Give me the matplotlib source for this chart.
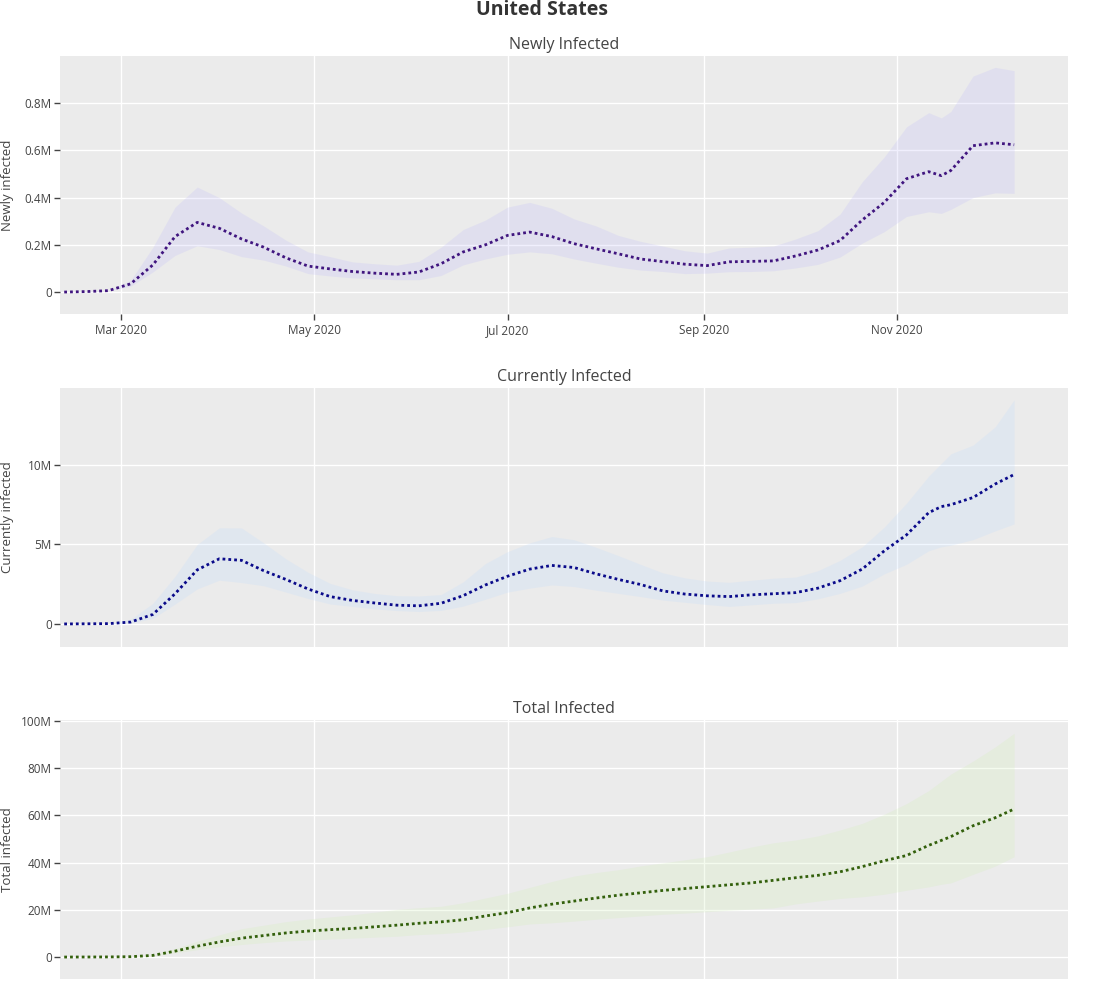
import matplotlib
matplotlib.use("Agg")
import matplotlib.pyplot as plt
import matplotlib.ticker as mticker
import pandas as pd

plt.rcParams['font.family'] = ['Open Sans', 'DejaVu Sans']

dates = pd.to_datetime([
    "2020-02-12", "2020-02-19", "2020-02-26", "2020-03-04", "2020-03-11", "2020-03-18",
    "2020-03-25", "2020-04-01", "2020-04-08", "2020-04-15", "2020-04-22", "2020-04-29",
    "2020-05-06", "2020-05-13", "2020-05-20", "2020-05-27", "2020-06-03", "2020-06-10",
    "2020-06-17", "2020-06-24", "2020-07-01", "2020-07-08", "2020-07-15", "2020-07-22",
    "2020-07-29", "2020-08-05", "2020-08-12", "2020-08-19", "2020-08-26", "2020-09-02",
    "2020-09-09", "2020-09-16", "2020-09-23", "2020-09-30", "2020-10-07", "2020-10-14",
    "2020-10-21", "2020-10-28", "2020-11-04", "2020-11-11", "2020-11-15", "2020-11-18",
    "2020-11-25", "2020-12-02", "2020-12-08"])

# Newly infected (millions)
new_mean = [0, 0.002, 0.006, 0.035, 0.115, 0.235, 0.295, 0.27, 0.225, 0.19, 0.145, 0.11,
            0.098, 0.087, 0.08, 0.075, 0.085, 0.12, 0.17, 0.2, 0.24, 0.254, 0.235, 0.205,
            0.183, 0.162, 0.14, 0.129, 0.118, 0.112, 0.128, 0.13, 0.132, 0.153, 0.178, 0.218,
            0.305, 0.38, 0.48, 0.51, 0.493, 0.515, 0.62, 0.632, 0.624]
new_upper = [0, 0.003, 0.007, 0.05, 0.19, 0.36, 0.445, 0.40, 0.335, 0.28, 0.22, 0.17,
             0.15, 0.128, 0.12, 0.114, 0.13, 0.19, 0.265, 0.305, 0.36, 0.38, 0.355, 0.31,
             0.28, 0.24, 0.215, 0.195, 0.175, 0.165, 0.187, 0.19, 0.195, 0.225, 0.26, 0.33,
             0.467, 0.573, 0.70, 0.76, 0.738, 0.765, 0.915, 0.952, 0.938]
new_lower = [0, 0.001, 0.005, 0.025, 0.085, 0.155, 0.196, 0.18, 0.15, 0.135, 0.11, 0.078,
             0.068, 0.06, 0.056, 0.052, 0.052, 0.07, 0.115, 0.14, 0.16, 0.17, 0.162, 0.14,
             0.122, 0.105, 0.093, 0.087, 0.078, 0.08, 0.086, 0.087, 0.09, 0.102, 0.117, 0.148,
             0.207, 0.256, 0.32, 0.34, 0.333, 0.35, 0.40, 0.42, 0.418]

# Currently infected (millions)
cur_mean = [0, 0.01, 0.02, 0.12, 0.6, 1.9, 3.4, 4.1, 4.0, 3.35, 2.8, 2.2,
            1.72, 1.48, 1.32, 1.18, 1.14, 1.3, 1.78, 2.45, 3.0, 3.45, 3.68, 3.55,
            3.15, 2.8, 2.48, 2.08, 1.88, 1.77, 1.72, 1.83, 1.9, 1.97, 2.25, 2.72,
            3.45, 4.6, 5.6, 7.0, 7.38, 7.5, 7.95, 8.8, 9.4]
cur_upper = [0, 0.01, 0.02, 0.3, 1.3, 3.0, 5.0, 6.05, 6.04, 5.1, 4.1, 3.25,
             2.55, 2.15, 1.92, 1.78, 1.76, 1.85, 2.65, 3.8, 4.55, 5.1, 5.5, 5.3,
             4.82, 4.3, 3.75, 3.22, 2.9, 2.7, 2.62, 2.75, 2.88, 2.95, 3.35, 4.0,
             4.85, 6.1, 7.6, 9.3, 10.1, 10.7, 11.25, 12.4, 14.1]
cur_lower = [0, 0.01, 0.02, 0.05, 0.35, 1.25, 2.2, 2.75, 2.6, 2.4, 2.0, 1.6,
             1.25, 1.1, 0.95, 0.84, 0.78, 0.85, 1.12, 1.55, 2.0, 2.25, 2.45, 2.35,
             2.12, 1.92, 1.72, 1.5, 1.36, 1.22, 1.1, 1.2, 1.3, 1.34, 1.58, 1.92,
             2.38, 3.15, 3.75, 4.6, 4.85, 4.95, 5.3, 5.85, 6.29]

# Total infected (millions)
tot_mean = [0, 0.02, 0.05, 0.15, 0.7, 2.5, 4.6, 6.4, 8.0, 9.1, 10.2, 11.0,
            11.6, 12.1, 12.8, 13.5, 14.3, 14.9, 15.8, 17.4, 18.8, 20.8, 22.4, 23.7,
            25.0, 26.2, 27.2, 28.2, 29.0, 29.8, 30.6, 31.4, 32.5, 33.6, 34.6, 36.1,
            38.3, 40.8, 43.0, 47.3, 49.4, 51.0, 55.6, 59.0, 62.7]
tot_upper = [0, 0.02, 0.05, 0.2, 1.0, 3.6, 6.7, 9.4, 12.0, 13.5, 15.0, 16.1,
             17.0, 17.9, 19.0, 20.2, 20.9, 21.5, 23.0, 25.0, 27.0, 29.5, 32.0, 34.3,
             35.8, 37.0, 38.6, 39.9, 41.2, 42.5, 44.5, 46.6, 48.4, 49.6, 51.3, 53.8,
             56.6, 60.5, 65.0, 70.5, 74.5, 77.5, 83.0, 89.0, 94.8]
tot_lower = [0, 0.02, 0.05, 0.12, 0.5, 1.8, 3.1, 4.4, 5.3, 6.1, 6.8, 7.2,
             7.6, 8.0, 8.4, 8.8, 9.5, 9.9, 10.6, 11.7, 12.8, 14.0, 14.5, 15.2,
             16.0, 16.7, 17.4, 18.1, 18.6, 19.2, 19.8, 20.3, 20.8, 22.5, 23.7, 24.8,
             25.5, 26.6, 28.3, 29.7, 30.8, 31.4, 35.0, 38.5, 42.5]

panel_titles = ["Newly Infected", "Currently Infected", "Total Infected"]
y_labels = ["Newly infected", "Currently infected", "Total infected"]
y_ticks = [[0, 0.2, 0.4, 0.6, 0.8], [0, 5, 10], [0, 20, 40, 60, 80, 100]]
x_tick_dates = pd.to_datetime(["2020-03-01", "2020-05-01", "2020-07-01", "2020-09-01", "2020-11-01"])
x_tick_labels = ["Mar 2020", "May 2020", "Jul 2020", "Sep 2020", "Nov 2020"]

series = [(new_mean, new_lower, new_upper), (cur_mean, cur_lower, cur_upper), (tot_mean, tot_lower, tot_upper)]
line_colors = ["#40157f", "#0a0a8a", "#33600c"]
fill_colors = [(0.74, 0.72, 0.98), (0.74, 0.86, 1.0), (0.82, 0.94, 0.70)]
ylims = [(-0.093, 1.0), (-1.45, 14.84), (-9.3, 100.4)]

W, H = 1095, 1000
fig = plt.figure(figsize=(W / 100, H / 100), dpi=100)
boxes = [(56, 314), (388, 647), (720, 979)]
left, right = 60, 1068

def fmt(v, pos):
    if abs(v) < 1e-9:
        return "0"
    return f"{v:g}M"

for i, (top, bot) in enumerate(boxes):
    ax = fig.add_axes([left / W, 1 - bot / H, (right - left) / W, (bot - top) / H])
    ax.set_facecolor("#ebebeb")
    for s in ax.spines.values():
        s.set_visible(False)
    m, lo, up = series[i]
    ax.fill_between(dates, lo, up, color=fill_colors[i], alpha=0.22, linewidth=0, zorder=2)
    ax.plot(dates, m, color=line_colors[i], linewidth=2, linestyle=(0, (1, 1.1)), zorder=3)
    ax.set_xlim(pd.Timestamp("2020-02-10 16:00"), pd.Timestamp("2020-12-25"))
    ax.set_ylim(*ylims[i])
    ax.set_yticks(y_ticks[i])
    ax.yaxis.set_major_formatter(mticker.FuncFormatter(fmt))
    ax.set_xticks(x_tick_dates)
    ax.grid(True, color="white", linewidth=1.0, zorder=1)
    ax.set_axisbelow(True)
    ax.tick_params(axis="y", length=4, width=1, color="#444444", labelcolor="#444444",
                   labelsize=8.5, pad=2)
    if i == 0:
        ax.set_xticklabels(x_tick_labels)
        ax.tick_params(axis="x", length=4, width=1, color="#444444", labelcolor="#444444",
                       labelsize=8.5, pad=3)
    else:
        ax.tick_params(axis="x", length=0, labelbottom=False)
    ax.set_title(panel_titles[i], fontsize=11.5, color="#444444", pad=5)
    ax.set_ylabel(y_labels[i], fontsize=9.5, color="#444444")
    ax.yaxis.set_label_coords(-0.046, 0.5)

fig.text(0.495, 0.990, "United States", ha="center", va="center", fontsize=14,
         fontweight="bold", color="#333333")

fig.savefig("out.png", dpi=100)
